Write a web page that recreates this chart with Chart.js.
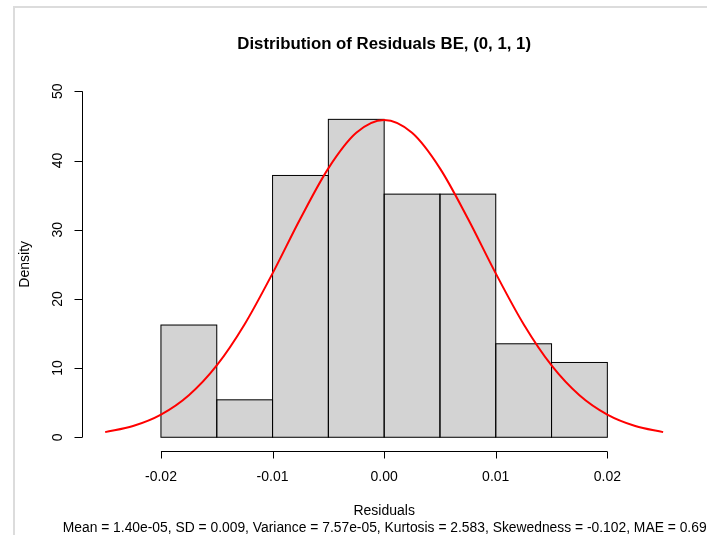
<!DOCTYPE html>
<html>
<head>
<meta charset="utf-8">
<script src="https://cdn.jsdelivr.net/npm/chart.js@4.4.1/dist/chart.umd.min.js"></script>
<style>
  html, body { margin: 0; padding: 0; background: #fff; }
  #wrap { width: 707px; height: 535px; }
</style>
</head>
<body>
<div id="wrap"><canvas id="hist" width="707" height="535"></canvas></div>
<script>
// histogram bins (width 0.005) and their densities
const binMids = [-0.0175, -0.0125, -0.0075, -0.0025, 0.0025, 0.0075, 0.0125, 0.0175];
const binDensity = [16.22, 5.41, 37.84, 45.95, 35.14, 35.14, 13.51, 10.81];

// fitted normal density, read along x
const curveX = [-0.025, -0.0225, -0.02, -0.0175, -0.015, -0.0125, -0.01, -0.0075, -0.005, -0.0025, 0,
                0.0025, 0.005, 0.0075, 0.01, 0.0125, 0.015, 0.0175, 0.02, 0.0225, 0.025];
const curveY = [0.74, 1.62, 3.27, 6.07, 10.38, 16.34, 23.69, 31.62, 38.87, 44.0, 45.85,
                44.0, 38.87, 31.62, 23.69, 16.34, 10.38, 6.07, 3.27, 1.62, 0.74];

const xTicks = [-0.02, -0.01, 0, 0.01, 0.02];
const xTickLabels = ['-0.02', '-0.01', '0.00', '0.01', '0.02'];
const yTicks = [0, 10, 20, 30, 40, 50];
const yTickLabels = ['0', '10', '20', '30', '40', '50'];

const titleText = 'Distribution of Residuals BE, (0, 1, 1)';
const xLabel = 'Residuals';
const yLabel = 'Density';
const subText = 'Mean = 1.40e-05, SD = 0.009, Variance = 7.57e-05, Kurtosis = 2.583, Skewedness = -0.102, MAE = 0.69';

const FONT = '"Liberation Sans", Arial, sans-serif';

// R-like frame, axes and labels drawn by hand around the plot region
const rStyle = {
    id: 'rStyle',
    beforeDraw(chart) {
        const c = chart.ctx;
        c.save();
        c.fillStyle = '#fff';
        c.fillRect(0, 0, chart.width, chart.height);
        c.fillStyle = '#dcdcdc';
        c.fillRect(13, 6, chart.width - 13, 2);
        c.fillRect(13, 6, 2, chart.height - 6);
        c.restore();
    },
    afterDatasetDraw(chart, args) {
        // outline the histogram bars right after they are filled
        if (args.index !== 1) return;
        const c = chart.ctx;
        c.save();
        c.strokeStyle = '#000';
        c.lineWidth = 1;
        args.meta.data.forEach(bar => {
            const p = bar.getProps(['x', 'y', 'base', 'width'], true);
            c.strokeRect(p.x - p.width / 2, p.y, p.width, p.base - p.y);
        });
        c.restore();
    },
    afterDraw(chart) {
        const c = chart.ctx;
        const area = chart.chartArea;
        const xs = chart.scales.x;
        const ys = chart.scales.y;
        const midX = (area.left + area.right) / 2;
        c.save();
        c.strokeStyle = '#000';
        c.fillStyle = '#000';
        c.lineWidth = 1;

        // title
        c.font = 'bold 16.8px ' + FONT;
        c.textAlign = 'center';
        c.textBaseline = 'middle';
        c.fillText(titleText, midX, 44);

        // x axis
        const xa = Math.round(area.bottom) + 0.5;
        c.beginPath();
        c.moveTo(xs.getPixelForValue(xTicks[0]), xa);
        c.lineTo(xs.getPixelForValue(xTicks[xTicks.length - 1]), xa);
        xTicks.forEach(t => {
            const px = Math.round(xs.getPixelForValue(t)) + 0.5;
            c.moveTo(px, xa);
            c.lineTo(px, xa + 7);
        });
        c.stroke();
        c.font = '14px ' + FONT;
        xTicks.forEach((t, i) => c.fillText(xTickLabels[i], xs.getPixelForValue(t), 477));
        c.fillText(xLabel, midX, 511);
        c.font = '13.85px ' + FONT;
        c.fillText(subText, midX + 0.5, 528);
        c.font = '14px ' + FONT;

        // y axis
        const ya = Math.round(area.left) + 0.5;
        c.beginPath();
        c.moveTo(ya, ys.getPixelForValue(yTicks[0]));
        c.lineTo(ya, ys.getPixelForValue(yTicks[yTicks.length - 1]));
        yTicks.forEach(t => {
            const py = Math.round(ys.getPixelForValue(t)) + 0.5;
            c.moveTo(ya, py);
            c.lineTo(ya - 8, py);
        });
        c.stroke();
        yTicks.forEach((t, i) => {
            c.save();
            c.translate(58, ys.getPixelForValue(t));
            c.rotate(-Math.PI / 2);
            c.fillText(yTickLabels[i], 0, 0);
            c.restore();
        });
        c.save();
        c.translate(25, (area.top + area.bottom) / 2);
        c.rotate(-Math.PI / 2);
        c.fillText(yLabel, 0, 0);
        c.restore();

        c.restore();
    }
};

new Chart(document.getElementById('hist'), {
    data: {
        datasets: [
            {
                type: 'line',
                order: 0,
                data: curveX.map((x, i) => ({ x: x, y: curveY[i] })),
                borderColor: '#ff0000',
                borderWidth: 2,
                pointRadius: 0,
                cubicInterpolationMode: 'monotone',
                fill: false
            },
            {
                type: 'bar',
                order: 1,
                data: binMids.map((x, i) => ({ x: x, y: binDensity[i] })),
                backgroundColor: '#d3d3d3',
                borderWidth: 0,
                barPercentage: 1,
                categoryPercentage: 1
            }
        ]
    },
    options: {
        responsive: false,
        animation: false,
        events: [],
        layout: { padding: { left: 82.4, right: 21.1, top: 77.5, bottom: 83.9 } },
        plugins: {
            legend: { display: false },
            tooltip: { enabled: false },
            title: { display: false }
        },
        scales: {
            x: { type: 'linear', min: -0.02704, max: 0.02704, offset: false, display: false },
            y: { type: 'linear', min: -2, max: 52, display: false }
        }
    },
    plugins: [rStyle]
});
</script>
</body>
</html>
